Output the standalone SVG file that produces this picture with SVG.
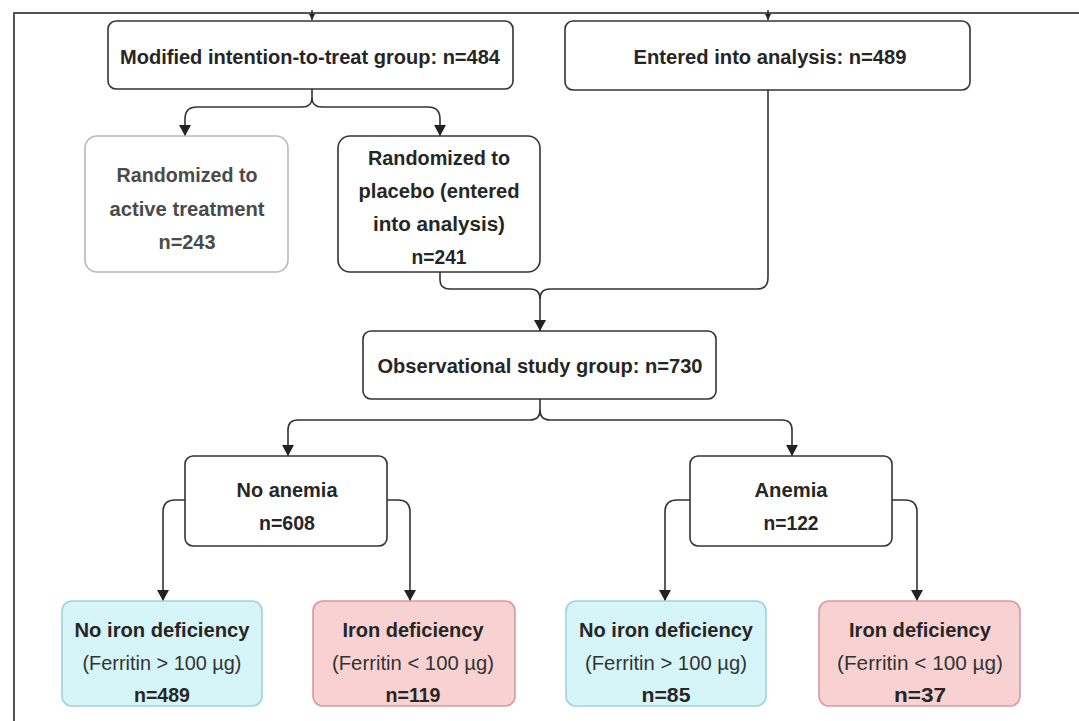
<svg xmlns="http://www.w3.org/2000/svg" width="1079" height="721" viewBox="0 0 1079 721">
<style>
.box{fill:#fff;stroke:#333;stroke-width:1.6}
.faint{fill:#fff;stroke:#b8b8b8;stroke-width:1.6}
.cyan{fill:#d6f5f8;stroke:#9fd3d8;stroke-width:1.6}
.pink{fill:#f8d2d2;stroke:#d99a9a;stroke-width:1.6}
.t{font-family:"Liberation Sans",Arial,sans-serif;font-size:20px;font-weight:bold;fill:#262626;text-anchor:middle}
.g{fill:#4a4a4a}
.n{font-weight:normal;fill:#333}
.c{fill:none;stroke:#333;stroke-width:1.6}
.frame{fill:none;stroke:#555;stroke-width:2}
</style>
<defs>
<marker id="ah" markerWidth="11" markerHeight="12" refX="11" refY="6" orient="auto" markerUnits="userSpaceOnUse">
<path d="M0,0 L11,6 L0,12 z" fill="#222"/>
</marker>
<marker id="ahs" markerWidth="6" markerHeight="6" refX="6" refY="3" orient="auto" markerUnits="userSpaceOnUse">
<path d="M0,0 L6,3 L0,6 z" fill="#222"/>
</marker>
</defs>
<rect width="1079" height="721" fill="#fff"/>
<path class="frame" d="M14,721 V13 H1079"/>

<g id="connectors">
<path class="c" d="M312,10 V20" marker-end="url(#ahs)"/>
<path class="c" d="M768,10 V20" marker-end="url(#ahs)"/>
<path class="c" d="M312,89 V98 Q312,107 302,107 H197 Q185,107 185,119 V136" marker-end="url(#ah)"/>
<path class="c" d="M312,98 Q312,107 322,107 H428 Q440,107 440,119 V136" marker-end="url(#ah)"/>
<path class="c" d="M440,272 V280 Q440,289 450,289 H530 Q540,289 540,299 V331" marker-end="url(#ah)"/>
<path class="c" d="M768,90 V278 Q768,289 757,289 H550 Q540,289 540,299"/>
<path class="c" d="M540,399 V410 Q540,420 530,420 H298 Q288,420 288,430 V456" marker-end="url(#ah)"/>
<path class="c" d="M540,410 Q540,420 550,420 H782 Q792,420 792,430 V456" marker-end="url(#ah)"/>
<path class="c" d="M185,500 H175 Q163,500 163,512 V601" marker-end="url(#ah)"/>
<path class="c" d="M387,500 H398 Q410,500 410,512 V601" marker-end="url(#ah)"/>
<path class="c" d="M690,500 H677 Q665,500 665,512 V601" marker-end="url(#ah)"/>
<path class="c" d="M892,500 H905 Q917,500 917,512 V601" marker-end="url(#ah)"/>
</g>

<g id="mitt">
<rect class="box" x="108" y="21" width="405" height="68" rx="8"/>
<text class="t" x="310" y="64" textLength="380" lengthAdjust="spacingAndGlyphs">Modified intention-to-treat group: n=484</text>
</g>
<g id="entered">
<rect class="box" x="565" y="21" width="405" height="69" rx="8"/>
<text class="t" x="770" y="64" textLength="273" lengthAdjust="spacingAndGlyphs">Entered into analysis: n=489</text>
</g>
<g id="active">
<rect class="faint" x="85" y="136" width="203" height="136" rx="12"/>
<text class="t g" x="187" y="182" textLength="141" lengthAdjust="spacingAndGlyphs">Randomized to</text>
<text class="t g" x="187" y="216" textLength="155" lengthAdjust="spacingAndGlyphs">active treatment</text>
<text class="t g" x="187" y="249" textLength="57" lengthAdjust="spacingAndGlyphs">n=243</text>
</g>
<g id="placebo">
<rect class="box" x="338" y="136" width="202" height="136" rx="12"/>
<text class="t" x="439" y="165" textLength="142" lengthAdjust="spacingAndGlyphs">Randomized to</text>
<text class="t" x="439" y="198" textLength="161" lengthAdjust="spacingAndGlyphs">placebo (entered</text>
<text class="t" x="439" y="231" textLength="132" lengthAdjust="spacingAndGlyphs">into analysis)</text>
<text class="t" x="439" y="264" textLength="55" lengthAdjust="spacingAndGlyphs">n=241</text>
</g>
<g id="obs">
<rect class="box" x="363" y="331" width="353" height="68" rx="8"/>
<text class="t" x="540" y="373" textLength="325" lengthAdjust="spacingAndGlyphs">Observational study group: n=730</text>
</g>
<g id="noanemia">
<rect class="box" x="185" y="456" width="202" height="90" rx="8"/>
<text class="t" x="287" y="497" textLength="101" lengthAdjust="spacingAndGlyphs">No anemia</text>
<text class="t" x="287" y="530" textLength="56" lengthAdjust="spacingAndGlyphs">n=608</text>
</g>
<g id="anemia">
<rect class="box" x="690" y="456" width="202" height="90" rx="8"/>
<text class="t" x="791" y="497" textLength="73" lengthAdjust="spacingAndGlyphs">Anemia</text>
<text class="t" x="791" y="530" textLength="55" lengthAdjust="spacingAndGlyphs">n=122</text>
</g>
<g id="leaf1">
<rect class="cyan" x="62" y="601" width="200" height="105" rx="10"/>
<text class="t" x="162" y="637" textLength="175" lengthAdjust="spacingAndGlyphs">No iron deficiency</text>
<text class="t n" x="162" y="670" textLength="159" lengthAdjust="spacingAndGlyphs">(Ferritin &gt; 100 µg)</text>
<text class="t" x="162" y="702" textLength="56" lengthAdjust="spacingAndGlyphs">n=489</text>
</g>
<g id="leaf2">
<rect class="pink" x="313" y="601" width="202" height="105" rx="10"/>
<text class="t" x="413" y="637" textLength="141" lengthAdjust="spacingAndGlyphs">Iron deficiency</text>
<text class="t n" x="413" y="670" textLength="162" lengthAdjust="spacingAndGlyphs">(Ferritin &lt; 100 µg)</text>
<text class="t" x="413" y="702" textLength="55" lengthAdjust="spacingAndGlyphs">n=119</text>
</g>
<g id="leaf3">
<rect class="cyan" x="566" y="601" width="200" height="105" rx="10"/>
<text class="t" x="666" y="637" textLength="174" lengthAdjust="spacingAndGlyphs">No iron deficiency</text>
<text class="t n" x="666" y="670" textLength="162" lengthAdjust="spacingAndGlyphs">(Ferritin &gt; 100 µg)</text>
<text class="t" x="666" y="702" textLength="49" lengthAdjust="spacingAndGlyphs">n=85</text>
</g>
<g id="leaf4">
<rect class="pink" x="819" y="601" width="201" height="105" rx="10"/>
<text class="t" x="920" y="637" textLength="142" lengthAdjust="spacingAndGlyphs">Iron deficiency</text>
<text class="t n" x="920" y="670" textLength="166" lengthAdjust="spacingAndGlyphs">(Ferritin &lt; 100 µg)</text>
<text class="t" x="920" y="702" textLength="52" lengthAdjust="spacingAndGlyphs">n=37</text>
</g>
</svg>
